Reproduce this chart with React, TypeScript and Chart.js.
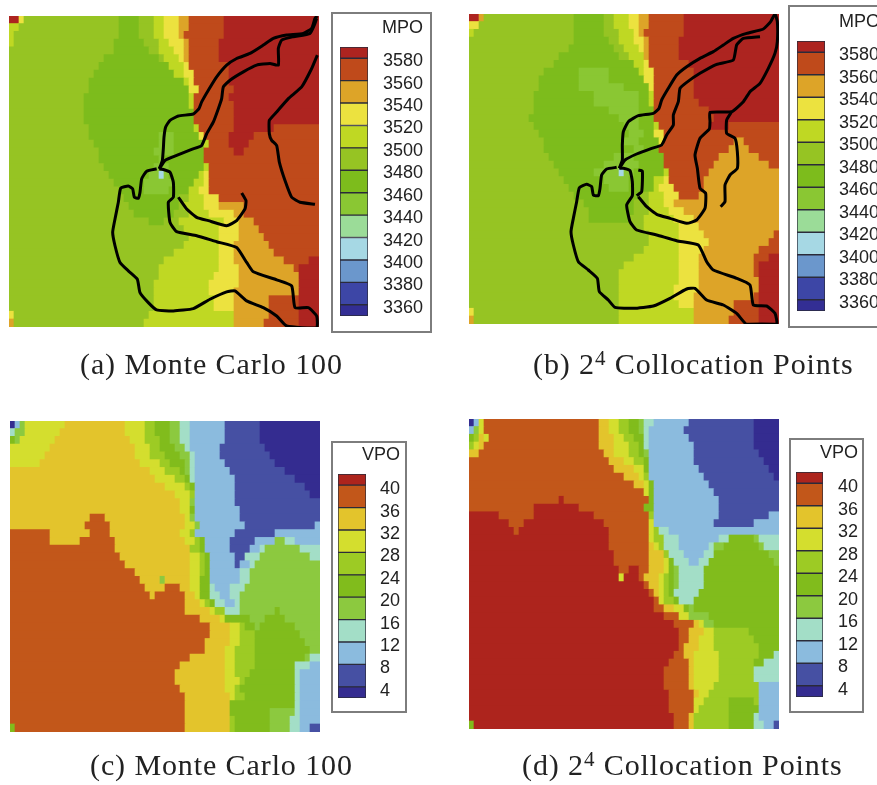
import React, { useEffect, useRef } from "react";
import { Chart, registerables } from "chart.js";

Chart.register(...registerables);

// Level colours, lowest band first (letters a, b, c ... in the rows below)
const mpoColors = ["#332e94", "#3d46a6", "#6b97cc", "#a6d8e4", "#9bdc98", "#8ac733", "#7dbc1c", "#96c423", "#bfd823", "#ece23f", "#dda428", "#bf4a1b", "#ad2420"];
const vpoColors = ["#342c90", "#4650a3", "#8bbbde", "#a3dec7", "#8cc93f", "#81bc1c", "#9dcb24", "#d4de2e", "#e3c42c", "#c2571a", "#ad241d"];
const mpoBounds = [3350, 3360, 3380, 3400, 3420, 3440, 3460, 3480, 3500, 3520, 3540, 3560, 3580, 3590];
const vpoBounds = [2, 4, 8, 12, 16, 20, 24, 28, 32, 36, 40, 42];
const mpoTicks = [3360, 3380, 3400, 3420, 3440, 3460, 3480, 3500, 3520, 3540, 3560, 3580];
const vpoTicks = [4, 8, 12, 16, 20, 24, 28, 32, 36, 40];

// Each row: band letter + column where that band ends (62 columns)
const rowsA = [
  "m2 j3 h22 g26 h29 i31 j34 k36 l43 m62", "i2 h22 g26 h29 i31 j34 k36 l43 m62", "i1 h22 g26 h29 i31 j34 k35 l43 m62", "i1 h21 g27 h30 i32 j35 k36 l42 m62",
  "h21 g28 h30 i33 j35 k36 l42 m62", "h19 g30 h31 i34 j35 k36 l42 m62", "h18 g32 i35 j36 l44 m62", "h17 g33 i35 j37 l44 m62",
  "h16 g35 i36 j37 l44 m62", "h16 g36 j38 l45 m62", "h15 g36 i37 l44 m62", "h15 g36 i37 l45 m62",
  "h15 g37 l45 m62", "h15 g37 l45 m62", "h16 g37 i38 l45 m53 l62", "h16 g30 f33 g38 j39 l44 m49 l62",
  "h17 g30 f33 g39 i40 l44 m48 l62", "h18 g29 f33 g39 l45 m47 l62", "h18 g30 f31 g39 l62", "h19 g29 f32 g39 i40 l62",
  "h20 g28 f30 d31 f32 g38 i39 j40 l62", "h21 g27 f33 g37 i39 j40 l62", "h22 g27 f32 g36 i38 j40 l62", "h23 g34 h36 i39 j42 l62",
  "h24 g34 h35 i39 j42 k47 l62", "h25 g33 h36 i40 j45 k47 l62", "h28 g31 h34 i43 j46 k49 l62", "h35 i42 j46 k50 l62",
  "h36 i42 j46 k51 l62", "h35 i42 j45 k52 l62", "h33 i42 j45 k53 l62", "h31 i42 j45 k55 l60 m62",
  "h30 i42 j46 k57 l58 m62", "h30 i41 j46 k58 m62", "h29 i40 j46 k58 m62", "h29 i40 j45 k58 m62",
  "h29 i41 j45 k52 l58 m62", "h29 i41 j45 k52 l58 m62", "j1 h28 i45 k52 l58 m62", "k1 h27 i45 k51 l58 m62",
];
const rowsB = [
  "m2 k3 h21 g27 h29 i32 j34 k36 l43 m62", "j2 h21 g27 h29 i32 j34 k36 l43 m62", "i1 h21 g27 h30 i33 j34 k35 l43 m62", "h21 g28 h30 i33 j35 k36 l42 m62",
  "h20 g29 h31 i34 j35 k36 l42 m62", "h18 g30 h32 i35 k36 l42 m62", "h17 g33 i35 j36 l44 m62", "h15 g22 f28 g34 i35 j37 l45 m62",
  "h14 g22 f28 g35 j37 l45 m62", "h14 g22 f31 g36 j37 l45 m62", "h13 g25 f34 g36 i37 l45 m62", "h13 g25 f34 g36 i37 l46 m62",
  "h13 g28 f34 g37 l48 m62", "h12 g30 f34 g37 l49 m62", "h13 g31 f34 g37 i38 l48 m52 l62", "h14 g32 f35 g37 j39 l62",
  "h15 g31 f34 g38 j39 l53 k55 l62", "h15 g33 f35 g38 l52 k56 l62", "h16 g29 f33 g39 l50 k58 l62", "h17 g27 f34 g39 l49 k60 l62",
  "h18 g25 f30 d31 f33 g39 i40 l48 k62", "h19 g27 f32 g37 i39 j40 l47 k62", "h20 g28 f32 g37 i38 j41 l47 k62", "h21 g34 h36 i39 j42 l46 k62",
  "h23 g33 h36 i39 j41 k62", "h24 g33 h36 i40 j43 k62", "h24 g32 h35 i41 j45 k62", "h35 i42 j46 k62",
  "h36 i42 j47 k61 l62", "h36 i42 j48 k60 l62", "h35 i42 j47 k58 l62", "h33 i42 j46 k57 l60 m62",
  "h31 i42 j46 k57 l58 m62", "h30 i42 j46 k57 l58 m62", "h30 i42 j46 k58 m62", "h30 i41 j46 k58 m62",
  "h30 i41 j45 k57 l58 m62", "h30 i42 j45 k53 l58 m62", "j1 h30 i45 k53 l58 m62", "k1 h30 i45 k52 l58 m62",
];
const rowsC = [
  "a1 c2 e3 h11 i23 h27 g29 f32 e34 d36 c43 b50 a62", "d1 e3 h10 i23 h27 g29 f32 e34 d36 c43 b50 a62", "f1 e2 h9 i24 h27 g30 f32 e34 d36 c43 b50 a62", "h8 i25 h28 g30 f33 e35 d36 c42 b51 a62",
  "h7 i25 h28 g31 f34 e36 d37 c42 b52 a62", "h6 i26 h30 g32 f35 e36 d37 c43 b53 a62", "i28 h31 g34 f35 e36 d37 c44 b55 a62", "i29 h33 g35 f36 d37 c45 b57 a62",
  "i31 h35 g36 f37 c45 b59 a62", "i33 h36 g37 c45 b60 a62", "i34 h36 e37 c45 b62", "i34 h36 f37 c46 b62",
  "i16 j19 i35 h36 e37 c46 b62", "i15 j20 i35 h37 e38 c47 b61 c62", "j8 i16 j20 i34 h36 g37 c45 b53 c62", "j8 i14 j21 i35 h37 g38 f39 c44 b49 c53 e55 d57 c62",
  "j21 i36 g38 f39 c44 b48 c50 d51 e58 d62", "j22 i36 h38 g39 f40 c45 b47 d50 e60 d62", "j23 i36 h38 g39 f40 c45 b46 c48 d49 e62", "j25 i36 h38 g39 f40 c46 d48 e62",
  "j26 i30 e31 i36 h38 f40 c46 d48 e62", "j27 i31 j34 i36 h38 f40 d41 c44 d47 e62", "j28 i29 j35 i37 h38 f40 d42 c44 d46 e62", "j35 i38 h39 g40 f41 d43 c45 d46 e62",
  "j35 i40 h41 g43 d46 e53 f54 e62", "j38 i42 h43 f48 e51 f55 e62", "j40 i44 h46 g47 f49 e50 f57 e62", "j40 i44 h46 g49 f58 e62",
  "j39 i44 h46 g49 f59 e62", "j39 i43 h45 g49 f60 e62", "j36 i43 h45 g49 f59 e60 d62", "j34 i43 h45 g49 f57 d60 c62",
  "j33 i43 h45 g48 f57 d58 c62", "j33 i43 h46 g47 f57 d58 c62", "j34 i43 h45 g46 f57 d58 c62", "j35 i44 h45 g47 f57 d58 c62",
  "j35 i44 f57 d58 c62", "j35 i44 f52 e57 d58 c62", "j35 i44 g45 f52 e56 d58 c62", "f1 j35 i44 g45 f52 e56 d58 c60 b62",
];
const rowsD = [
  "a1 c2 h3 j26 i28 h30 g32 f34 e35 d37 c44 b57 a62", "c1 e2 h3 j26 i28 h30 g32 f34 e35 d36 c43 b57 a62", "f1 g2 i3 h4 j26 i29 h31 g33 f35 d36 c44 b57 a62", "g1 h2 i3 j26 i29 h32 g34 f35 d36 c45 b57 a62",
  "i2 j27 i29 h32 g34 f35 e36 c45 b58 a62", "j28 i31 h33 g35 f36 c45 b59 a62", "j29 i33 h35 f36 c46 b60 a62", "j31 i34 h35 g36 c47 b61 a62",
  "j33 i35 h36 f37 c48 b62", "j35 h36 f37 c49 b62", "j18 k19 j36 f37 c50 b62", "j13 k22 j35 f37 c50 b62",
  "k6 j13 k25 j36 g37 c50 b60 c62", "k8 j11 k27 j36 h37 c49 b57 c62", "k9 j10 k28 j36 h37 g38 d40 c62", "k28 j36 h37 g39 d42 c50 d52 f57 e58 d62",
  "k28 j36 i37 h38 g39 d42 c48 d49 e51 f58 e59 d62", "k29 j36 i39 g40 d43 c47 d49 f60 e62", "k29 j36 i39 h40 f41 d44 c46 d48 f61 e62", "k30 j32 k34 j36 i39 h40 f41 e42 d47 f62",
  "k30 h31 k34 j35 i38 h39 g40 f41 e42 d47 f62", "k35 j36 i38 h39 g40 f41 e42 d47 f62", "k36 j37 i38 h39 g40 f41 d46 f62", "k37 j38 h39 g41 f42 d45 f62",
  "k37 j39 i41 h43 f44 e45 f62", "k39 j42 h44 e48 f62", "k41 j45 i46 h47 e49 f62", "k42 j44 i47 h49 g56 f62",
  "k42 j44 i46 h49 g57 f62", "k42 j43 i46 h49 g58 f62", "k41 j43 i45 h50 g58 f61 d62", "k40 j44 i45 h50 g57 f59 d62",
  "k39 j44 i45 h50 g57 d62", "k39 j44 i45 h50 g57 d62", "k39 j44 i45 h49 g58 c62", "k40 j45 i46 h48 g58 c62",
  "k40 j45 h47 g52 f57 g58 c62", "k40 j45 h46 g52 f58 c62", "k41 j44 i45 g52 f57 d58 c62", "f1 k41 j44 i45 g52 f57 d59 c61 b62",
];

// River network traced over panels (a) and (b), in map units
const riversA = [
  [[478, 490], [487, 465], [490, 430], [492, 395], [497, 365], [510, 345], [535, 332], [580, 326], [597, 310], [605, 290], [625, 255], [650, 215], [680, 180], [710, 160], [750, 145], [790, 120], [820, 100], [860, 90], [910, 85], [935, 70], [945, 40], [952, 33]],
  [[478, 490], [495, 465], [530, 450], [575, 432], [605, 420], [620, 385], [640, 350], [655, 310], [665, 280], [670, 245], [690, 225], [730, 200], [770, 180], [810, 175], [835, 180], [835, 130], [845, 105], [880, 95], [930, 85], [945, 55], [950, 40]],
  [[952, 150], [935, 190], [905, 245], [865, 280], [830, 320], [808, 345], [808, 385], [815, 405], [830, 420], [838, 470], [855, 525], [875, 575], [900, 590], [945, 596]],
  [[470, 490], [440, 497], [425, 520], [420, 560], [415, 578], [403, 575], [398, 550], [385, 541], [362, 548], [355, 590], [345, 640], [338, 680], [345, 720], [360, 770], [385, 795], [412, 820], [420, 860], [445, 890], [470, 912], [520, 915], [580, 908], [630, 880], [680, 858], [705, 855], [740, 885], [790, 905], [830, 930], [860, 960], [950, 965], [950, 930], [925, 905], [885, 905], [875, 840], [830, 822], [760, 798], [740, 770], [710, 725], [650, 708], [590, 690], [530, 678], [510, 650], [505, 590], [520, 575], [520, 530], [510, 500], [490, 492], [478, 490]],
  [[535, 575], [560, 610], [590, 635], [625, 645], [680, 660], [710, 645], [735, 610], [738, 585], [725, 562]],
];
const riversB = [
  [[478, 490], [487, 465], [487, 420], [490, 380], [505, 350], [535, 332], [580, 325], [597, 310], [605, 285], [625, 250], [650, 210], [680, 185], [720, 160], [760, 140], [790, 120], [820, 100], [860, 85], [910, 72], [932, 50], [945, 27], [952, 50], [952, 110], [945, 145], [925, 190], [900, 235], [870, 260], [850, 290], [815, 320], [750, 322], [750, 350], [748, 372], [720, 400], [705, 450], [712, 490], [720, 550], [737, 565], [735, 610], [710, 645], [680, 655], [630, 640], [590, 628], [560, 605], [535, 575]],
  [[478, 490], [495, 465], [530, 447], [575, 430], [605, 420], [620, 390], [640, 360], [640, 330], [655, 290], [660, 250], [680, 232], [720, 205], [770, 178], [820, 165], [830, 120], [850, 100], [900, 95]],
  [[815, 320], [800, 345], [800, 385], [825, 400], [832, 440], [832, 490], [810, 510], [795, 540], [795, 590], [782, 605]],
  [[470, 487], [440, 492], [425, 510], [420, 550], [415, 572], [400, 570], [395, 545], [380, 538], [358, 548], [350, 590], [340, 640], [333, 680], [340, 720], [355, 770], [385, 795], [412, 820], [418, 860], [445, 885], [465, 907], [520, 910], [580, 903], [630, 880], [680, 852], [705, 850], [740, 885], [790, 900], [830, 925], [860, 958], [950, 958], [945, 925], [920, 903], [880, 900], [870, 840], [830, 820], [760, 795], [740, 770], [715, 720], [650, 707], [590, 690], [530, 675], [510, 650], [500, 600], [517, 572], [517, 530], [510, 497], [490, 490], [478, 490]],
  [[535, 495], [547, 498], [545, 560], [530, 572]],
];

const FONT_SANS = "'Liberation Sans', Arial, sans-serif";
const MAP_SPAN = 930;
const COLUMN = 15;

function mapConfig(rows: string[], colors: string[], rivers: number[][][], x0: number, y0: number): any {
  const bars: any[] = [];
  const fills: string[] = [];
  const step = MAP_SPAN / rows.length;
  rows.forEach((row, r) => {
    let start = 0;
    row.split(" ").forEach((run) => {
      const end = Number(run.slice(1));
      bars.push({ x: [x0 + start * COLUMN, x0 + end * COLUMN], y: y0 + (r + 0.5) * step });
      fills.push(colors[run.charCodeAt(0) - 97]);
      start = end;
    });
  });
  const lines = rivers.map((path) => ({
    type: "scatter",
    showLine: true,
    data: path.map(([x, y]) => ({ x, y })),
    borderColor: "#000",
    borderWidth: 3,
    tension: 0.15,
    pointRadius: 0,
    order: 0,
    clip: false,
  }));
  return {
    type: "bar",
    data: {
      datasets: [
        ...lines,
        { indexAxis: "y", data: bars, backgroundColor: fills, borderWidth: 0, barThickness: 8.25, grouped: false, order: 1 },
      ],
    },
    options: {
      animation: false,
      responsive: false,
      devicePixelRatio: 1,
      layout: { padding: 0 },
      plugins: { legend: { display: false }, title: { display: false }, tooltip: { enabled: false } },
      scales: {
        x: { type: "linear", display: false, offset: false, min: x0, max: x0 + MAP_SPAN },
        y: { type: "linear", display: false, offset: false, reverse: true, min: y0, max: y0 + MAP_SPAN },
      },
    },
  };
}

function barConfig(title: string, bounds: number[], colors: string[], ticks: number[], axisWidth: number, labelGap: number, labelShift: number): any {
  return {
    type: "bar",
    data: {
      labels: [title],
      datasets: colors.map((c, i) => ({
        data: [[bounds[i], bounds[i + 1]]],
        backgroundColor: c,
        borderColor: "#2b2b3a",
        borderWidth: 1,
        borderSkipped: false,
        grouped: false,
        barPercentage: 1,
        categoryPercentage: 1,
      })),
    },
    options: {
      animation: false,
      responsive: false,
      devicePixelRatio: 1,
      layout: { padding: { bottom: 12 } },
      plugins: {
        legend: { display: false },
        tooltip: { enabled: false },
        title: {
          display: true,
          text: title,
          align: "end",
          color: "#222",
          font: { family: FONT_SANS, size: 18, weight: "normal" },
          padding: { top: 1.2, bottom: 8.2 },
        },
      },
      scales: {
        x: { display: false },
        y: {
          position: "right",
          min: bounds[0],
          max: bounds[bounds.length - 1],
          grid: { display: false, drawTicks: false },
          border: { display: false },
          afterBuildTicks: (s: any) => { s.ticks = ticks.map((value) => ({ value })); },
          afterFit: (s: any) => { s.width = axisWidth; s.paddingTop = 0; s.paddingBottom = 0; },
          ticks: {
            autoSkip: false,
            color: "#222",
            padding: labelGap,
            labelOffset: labelShift,
            font: { family: FONT_SANS, size: 18 },
            callback: (v: any) => String(v),
          },
        },
      },
    },
  };
}

function Plot({ left, top, width, height, config, blur }: any) {
  const ref = useRef<HTMLCanvasElement>(null);
  useEffect(() => {
    const chart = new Chart(ref.current as HTMLCanvasElement, config());
    return () => chart.destroy();
  }, []);
  return (
    <canvas
      ref={ref}
      width={width}
      height={height}
      style={{ position: "absolute", left, top, width, height, filter: blur ? `blur(${blur}px)` : undefined }}
    />
  );
}

const boxes = [
  { left: 331, top: 12, width: 101, height: 321 },
  { left: 788, top: 5, width: 100, height: 323 },
  { left: 331, top: 441, width: 76, height: 272 },
  { left: 789, top: 438, width: 75, height: 275 },
];

const supStyle = { fontSize: "0.7em", verticalAlign: "0.42em", lineHeight: 0 };
const captions = [
  { left: 80, top: 364, body: <>(a) Monte Carlo 100</> },
  { left: 533, top: 364, body: <>(b) 2<sup style={supStyle}>4</sup> Collocation Points</> },
  { left: 90, top: 765, body: <>(c) Monte Carlo 100</> },
  { left: 522, top: 765, body: <>(d) 2<sup style={supStyle}>4</sup> Collocation Points</> },
];

export default function App() {
  return (
    <div style={{ position: "fixed", left: 0, top: 0, width: 877, height: 785, overflow: "hidden", background: "#fff" }}>
      {boxes.map((b, i) => (
        <div key={i} style={{ position: "absolute", boxSizing: "border-box", border: "2px solid #7d7d7d", background: "#fff", ...b }} />
      ))}
      <Plot left={9} top={16} width={310} height={311} blur={0.6} config={() => mapConfig(rowsA, mpoColors, riversA, 27, 33)} />
      <Plot left={469} top={14} width={310} height={310} blur={0.6} config={() => mapConfig(rowsB, mpoColors, riversB, 27, 27)} />
      <Plot left={10} top={421} width={310} height={311} blur={0.6} config={() => mapConfig(rowsC, vpoColors, [], 29, 35)} />
      <Plot left={469} top={419} width={310} height={310} blur={0.6} config={() => mapConfig(rowsD, vpoColors, [], 28, 27)} />
      <Plot left={340} top={16} width={83} height={312} blur={0.4} config={() => barConfig("MPO", mpoBounds, mpoColors, mpoTicks, 55, 15, 3)} />
      <Plot left={797} top={10} width={83} height={313} blur={0.4} config={() => barConfig("MPO", mpoBounds, mpoColors, mpoTicks, 55, 14, 3)} />
      <Plot left={338} top={443} width={62} height={267} blur={0.4} config={() => barConfig("VPO", vpoBounds, vpoColors, vpoTicks, 34, 14, 4)} />
      <Plot left={796} top={441} width={62} height={268} blur={0.4} config={() => barConfig("VPO", vpoBounds, vpoColors, vpoTicks, 35, 15, 4)} />
      {captions.map((c, i) => (
        <div key={i} style={{ position: "absolute", left: c.left, top: c.top, transform: "translateY(-50%)", whiteSpace: "nowrap", fontFamily: "'Liberation Serif', serif", fontSize: 30, letterSpacing: 0.9, color: "#222", filter: "blur(0.3px)" }}>
          {c.body}
        </div>
      ))}
    </div>
  );
}
